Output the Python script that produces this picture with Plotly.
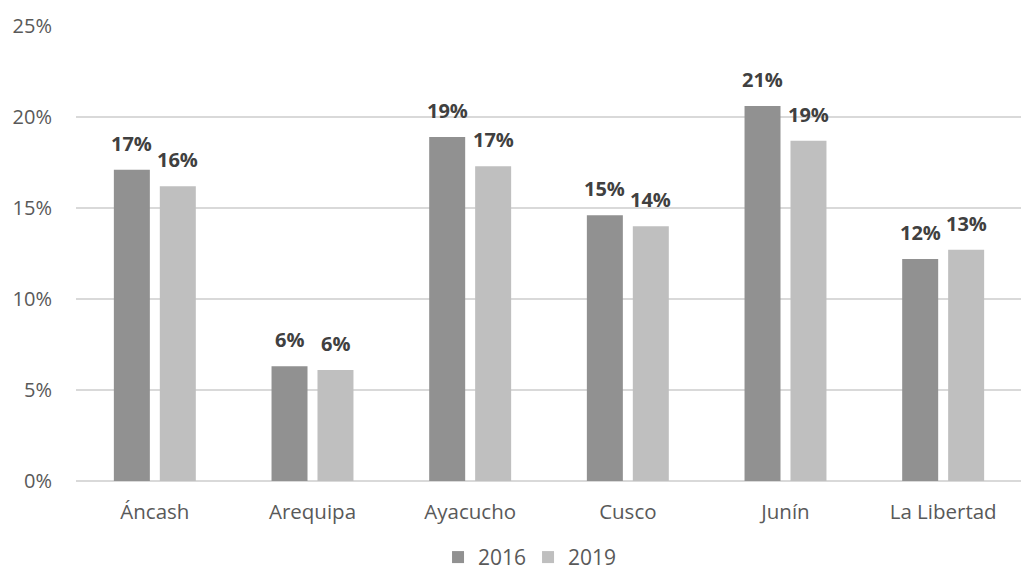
import plotly.graph_objects as go

categories = ["Áncash", "Arequipa", "Ayacucho", "Cusco", "Junín", "La Libertad"]
values_2016 = [0.171, 0.063, 0.189, 0.146, 0.206, 0.122]
values_2019 = [0.162, 0.061, 0.173, 0.140, 0.187, 0.127]
series_names = ["2016", "2019"]
tick_vals = [0, 0.05, 0.10, 0.15, 0.20, 0.25]
tick_text = ["0%", "5%", "10%", "15%", "20%", "25%"]

colors = ["#919191", "#bfbfbf"]
FONT = "Open Sans"

fig = go.Figure()
for name, vals, col in zip(series_names, [values_2016, values_2019], colors):
    fig.add_trace(go.Bar(
        x=categories, y=vals, name=name,
        marker=dict(color=col, line=dict(width=0)),
        hoverinfo="x+y",
    ))

annotations = []
for shift, vals in zip([-23, 23], [values_2016, values_2019]):
    for c, v in zip(categories, vals):
        annotations.append(dict(
            x=c, y=v, xref="x", yref="y",
            text="<b>%d%%</b>" % int(round(v * 100)),
            showarrow=False, xshift=shift, yshift=11,
            yanchor="bottom", xanchor="center",
            font=dict(family=FONT, size=20, color="#404040"),
        ))

# page body has an 8px default margin, so the figure is sized to fit the window
fig.update_layout(
    width=1021, height=566,
    margin=dict(l=68, r=7, t=18, b=92.5, autoexpand=False),
    paper_bgcolor="white", plot_bgcolor="white",
    barmode="group", bargap=0.417, bargroupgap=0.217,
    font=dict(family=FONT, size=20, color="#595959"),
    showlegend=True,
    legend=dict(orientation="h", x=0.3827, xanchor="left", y=-0.168, yanchor="middle",
                font=dict(family=FONT, size=21, color="#595959"),
                itemwidth=30, entrywidth=45, traceorder="normal"),
    annotations=annotations,
)
fig.update_xaxes(showgrid=False, showline=False, ticks="", tickfont=dict(size=20.5, color="#595959"),
                 ticklabelstandoff=16)
fig.update_yaxes(range=[0, 0.25], tickvals=tick_vals, ticktext=tick_text,
                 showgrid=True, gridcolor="#d9d9d9", gridwidth=1.5,
                 zeroline=True, zerolinecolor="#d9d9d9", zerolinewidth=1.5,
                 showline=False, ticks="", tickfont=dict(size=20, color="#595959"),
                 ticklabelstandoff=23)

fig.write_html("out.html")
